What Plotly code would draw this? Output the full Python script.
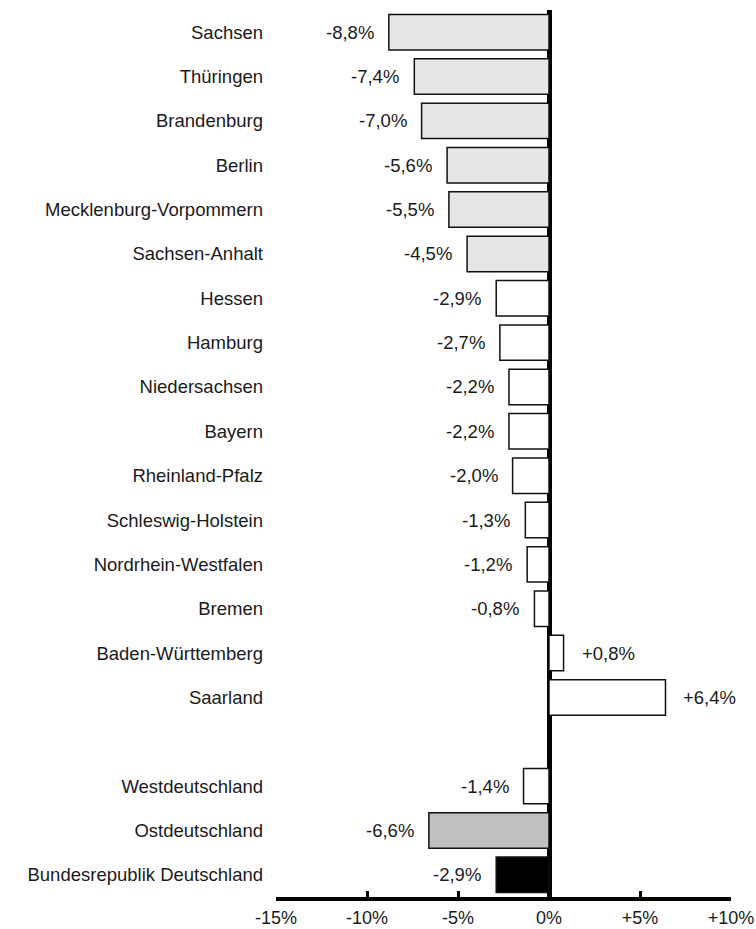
import plotly.graph_objects as go

regions = ["Sachsen", "Thüringen", "Brandenburg", "Berlin", "Mecklenburg-Vorpommern",
           "Sachsen-Anhalt", "Hessen", "Hamburg", "Niedersachsen", "Bayern",
           "Rheinland-Pfalz", "Schleswig-Holstein", "Nordrhein-Westfalen", "Bremen",
           "Baden-Württemberg", "Saarland", " ", "Westdeutschland", "Ostdeutschland",
           "Bundesrepublik Deutschland"]
changes = [-8.8, -7.4, -7.0, -5.6, -5.5, -4.5, -2.9, -2.7, -2.2, -2.2, -2.0, -1.3,
           -1.2, -0.8, 0.8, 6.4, None, -1.4, -6.6, -2.9]
fill_colors = ["#e6e6e6"] * 6 + ["#ffffff"] * 10 + ["#ffffff", "#ffffff", "#c0c0c0", "#000000"]

tick_vals = [-15, -10, -5, 0, 5, 10]
tick_text = ["-15%", "-10%", "-5%", "0%", "+5%", "+10%"]

FONT = "Liberation Sans, Arial, sans-serif"
TXT = "#1a1a1a"
FS = 18.5


def fmt(v):
    s = f"{abs(v):.1f}".replace(".", ",")
    return ("+" if v > 0 else "-") + s + "%"


fig = go.Figure(go.Bar(
    y=regions, x=changes, orientation="h",
    marker=dict(color=fill_colors, line=dict(color="#111111", width=1.5)),
    hoverinfo="skip",
))

for r, v in zip(regions, changes):
    if v is None:
        continue
    fig.add_annotation(
        x=v, y=r, text=fmt(v), showarrow=False,
        xanchor="left" if v > 0 else "right", yanchor="middle",
        xshift=16 if v > 0 else -13,
        font=dict(family=FONT, size=FS, color=TXT),
    )

fig.update_layout(
    width=756, height=929,
    margin=dict(l=276, r=25, t=10, b=32),
    paper_bgcolor="white", plot_bgcolor="white",
    bargap=0.2, showlegend=False,
    font=dict(family=FONT, size=FS, color=TXT),
    xaxis=dict(
        range=[-15, 10], tickvals=tick_vals, ticktext=tick_text,
        showgrid=False, zeroline=True, zerolinecolor="black", zerolinewidth=5,
        showline=True, linecolor="black", linewidth=4,
        ticks="inside", ticklen=6, tickwidth=3, tickcolor="black",
        ticklabelstandoff=1, automargin=False,
        tickfont=dict(family=FONT, size=18, color=TXT),
        fixedrange=True,
    ),
    yaxis=dict(
        categoryorder="array", categoryarray=regions,
        autorange="reversed", showgrid=False, zeroline=False, showline=False,
        ticks="", ticklabelstandoff=12, automargin=False,
        tickfont=dict(family=FONT, size=FS, color=TXT),
        fixedrange=True,
    ),
)

fig.write_html("out.html", config={"displayModeBar": False},
               post_script="document.body.style.margin='0';")
